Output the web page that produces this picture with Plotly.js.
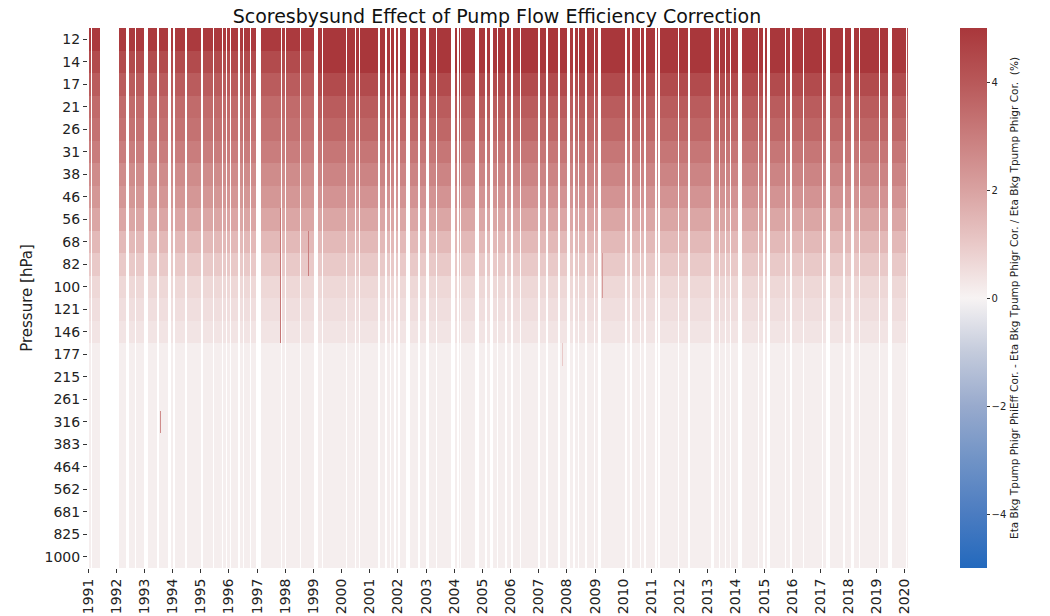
<!DOCTYPE html>
<html><head><meta charset="utf-8">
<script src="https://cdn.plot.ly/plotly-3.0.1.min.js"></script>
<style>body{margin:0;background:#fff}</style>
</head><body>
<div id="chart" style="width:1050px;height:616px"></div>
<script>
// Pressure levels (hPa), top to bottom
const levels = ['12','14','17','21','26','31','38','46','56','68','82','100','121','146','177','215','261','316','383','464','562','681','825','1000'];
// Typical relative correction (%) per level, before 1999 and from 1999 on
const profileEarly = [4.9, 4.4, 3.9, 3.5, 3.3, 3.0, 2.6, 2.3, 1.9, 1.4, 1.0, 0.65, 0.5, 0.35, 0.12, 0.12, 0.12, 0.12, 0.12, 0.12, 0.12, 0.12, 0.12, 0.12];
const profileLate  = [5.3, 5.0, 4.4, 3.9, 3.6, 3.2, 2.8, 2.4, 1.9, 1.4, 1.0, 0.65, 0.5, 0.35, 0.12, 0.12, 0.12, 0.12, 0.12, 0.12, 0.12, 0.12, 0.12, 0.12];
const eraSplit = 1999.0;
// Weekly sounding grid
const firstDate = '1991-01-03';
const lastDate = '2020-02-08';
// Periods without soundings (decimal years)
const gapRanges = [[1991.43,1992.08],[1992.36,1992.47],[1992.99,1993.13],[1993.45,1993.51],[1993.84,1993.94],[1994.00,1994.10],[1994.43,1994.53],[1995.00,1995.10],[1995.89,1995.94],[1996.03,1996.08],[1996.33,1996.39],[1996.74,1996.79],[1996.96,1997.12],[1998.52,1998.56],[1999.02,1999.17],[2001.30,2001.37],[2001.54,2001.63],[2001.87,2001.92],[2001.99,2002.10],[2002.31,2002.43],[2002.72,2002.78],[2003.02,2003.10],[2003.90,2004.02],[2004.08,2004.16],[2004.76,2004.87],[2005.09,2005.15],[2005.26,2005.38],[2005.80,2005.88],[2006.00,2006.09],[2006.33,2006.39],[2006.98,2007.04],[2007.25,2007.33],[2007.69,2007.75],[2007.99,2008.13],[2008.20,2008.28],[2008.64,2008.70],[2009.11,2009.21],[2010.06,2010.12],[2010.24,2010.32],[2010.74,2010.79],[2011.12,2011.19],[2011.24,2011.30],[2012.31,2012.38],[2013.11,2013.22],[2013.61,2013.67],[2014.08,2014.20],[2014.79,2014.84],[2014.95,2015.03],[2015.11,2015.20],[2015.74,2015.80],[2015.92,2015.98],[2016.37,2016.43],[2017.22,2017.34],[2017.81,2017.87],[2018.07,2018.19],[2019.41,2019.56]];
// Isolated missing weeks (decimal years)
const singleGaps = [1991.02,1991.12,1992.22,1992.69,1993.23,1994.22,1994.63,1995.46,1995.77,1996.53,1997.59,1997.87,1998.02,1999.32,1999.51,2000.19,2000.49,2000.65,2001.04,2001.74,2002.92,2003.37,2003.63,2004.23,2005.53,2006.48,2008.40,2008.99,2010.45,2010.62,2011.98,2012.79,2013.33,2013.43,2013.82,2013.96,2014.43,2014.61,2015.28,2015.53,2016.13,2017.07,2018.40,2018.76,2019.11,2020.06];
// Soundings that did not reach the top levels: [decimal year, missing top rows]
const partialTop = [[2002.05,2],[2006.17,2],[2016.17,3],[2016.25,2],[2011.0,2],[2003.88,1]];
// Individual soundings with unusual values: [decimal year, top level, bottom level, value]
const anomalies = [[1997.80,'56','146',3.2],[1998.80,'68','82',3.0],[1993.55,'316','316',2.6],[2009.25,'82','100',2.2],[2007.86,'177','177',1.0]];

function decYear(d){const y=d.getUTCFullYear();const s=Date.UTC(y,0,1),e=Date.UTC(y+1,0,1);return y+(d.getTime()-s)/(e-s);}
function iso(d){return d.toISOString().slice(0,10);}

const x=[], dec=[];
for(let t=new Date(firstDate+'T00:00:00Z'); t<=new Date(lastDate+'T00:00:00Z'); t=new Date(t.getTime()+7*86400000)){
  x.push(iso(t)); dec.push(decYear(t));
}
const nCol=x.length;
const z=levels.map(()=>new Array(nCol).fill(null));
for(let j=0;j<nCol;j++){
  const yv=dec[j];
  if(gapRanges.some(g=>yv>=g[0]&&yv<=g[1])) continue;
  const prof = yv<eraSplit?profileEarly:profileLate;
  for(let i=0;i<levels.length;i++) z[i][j]=prof[i];
}
function nearest(yv){let b=0,bd=1e9;for(let j=0;j<nCol;j++){const d=Math.abs(dec[j]-yv);if(d<bd){bd=d;b=j;}}return b;}
singleGaps.forEach(g=>{const j=nearest(g);for(let i=0;i<levels.length;i++)z[i][j]=null;});
partialTop.forEach(p=>{const j=nearest(p[0]);for(let i=0;i<p[1];i++)z[i][j]=null;});
anomalies.forEach(a=>{const j=nearest(a[0]);const i0=levels.indexOf(a[1]),i1=levels.indexOf(a[2]);[j,j+1].forEach(k=>{for(let i=i0;i<=i1;i++)if(z[i][k]!==null)z[i][k]=a[3];});});

const vlag=[[0,'#2369bd'],[0.1,'#4b7cc1'],[0.2,'#7093c6'],[0.3,'#98aacd'],[0.4,'#c4cbdc'],[0.5,'#f7f3f3'],[0.6,'#e9c9c8'],[0.7,'#d9a2a1'],[0.8,'#c97d7d'],[0.9,'#b85859'],[1,'#a9373b']];

const trace={type:'heatmap',x:x,y:levels,z:z,zmin:-5,zmax:5,colorscale:vlag,hoverongaps:false,
  colorbar:{thickness:27,len:1,lenmode:'fraction',x:1.0634,xanchor:'left',y:0.5,yanchor:'middle',outlinewidth:0,xpad:0,ypad:0,
    tickvals:[-4,-2,0,2,4],ticks:'outside',ticklen:3,tickcolor:'#333',tickfont:{family:'DejaVu Sans',size:10,color:'#222'},
    title:{text:'Eta Bkg Tpump Phigr PhiEff Cor. - Eta Bkg Tpump Phigr Cor. / Eta Bkg Tpump Phigr Cor. \u00a0(%)',side:'right',font:{family:'DejaVu Sans',size:10.5,color:'#222'}}}};

const layout={width:1050,height:616,margin:{l:88,r:142,t:28,b:48},paper_bgcolor:'#fff',plot_bgcolor:'#fff',
  font:{family:'DejaVu Sans',color:'#222'},
  title:{text:'Scoresbysund Effect of Pump Flow Efficiency Correction',font:{family:'DejaVu Sans',size:19,color:'#111'},x:0.4733,xanchor:'center',y:0.974,yanchor:'middle',yref:'container'},
  xaxis:{type:'date',range:['1991-01-01','2020-02-10'],tick0:'1991-01-01',dtick:'M12',tickformat:'%Y',tickangle:-90,
    ticks:'outside',ticklen:4,tickcolor:'#333',showgrid:false,zeroline:false,showline:false,tickfont:{size:14,color:'#222'}},
  yaxis:{type:'category',categoryorder:'array',categoryarray:levels,autorange:'reversed',ticks:'outside',ticklen:4,tickcolor:'#333',
    showgrid:false,zeroline:false,showline:false,tickfont:{size:14,color:'#222'},
    title:{text:'Pressure [hPa]',font:{size:15,color:'#222'},standoff:8}}
};
Plotly.newPlot('chart',[trace],layout,{displayModeBar:false,staticPlot:true});
</script>
</body></html>
